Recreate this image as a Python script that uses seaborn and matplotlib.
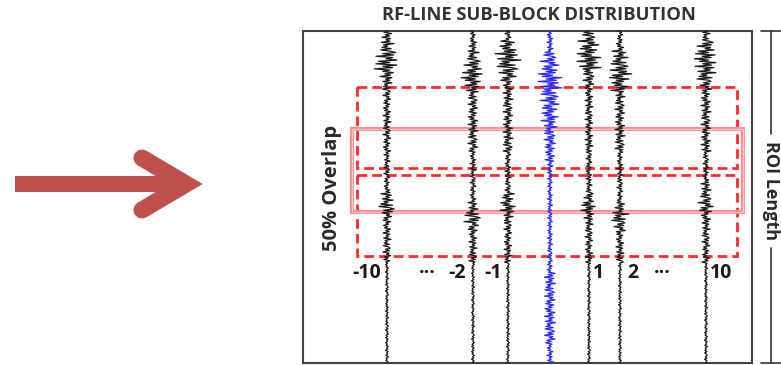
import numpy as np
import pandas as pd
import matplotlib
matplotlib.use("Agg")
import matplotlib.pyplot as plt
from matplotlib.patches import Rectangle
import seaborn as sns

# RF lines (sub-block index) and their lateral position in the diagram
trace_names = ["-10", "-2", "-1", "0", "1", "2", "10"]
trace_x = [387, 473, 508, 550, 589, 620, 706]

# amplitude of each RF line in 33 depth bands (top of box -> bottom)
amp_m10 = [5, 7, 11, 14, 7, 5, 4, 4, 4, 4, 4, 4, 3, 3, 3, 3, 6, 9, 5, 4, 4, 4, 4,
           1.5, 1.5, 1.5, 1.5, 1.5, 1.5, 1.5, 1.5, 1.5, 1.5]
amp_m2 = [3, 4, 6, 9, 13, 8, 5, 5, 5, 5, 5, 5, 3, 3, 3, 3, 3, 5, 9, 6, 4, 4, 4,
          1.5, 1.5, 1.5, 1.5, 1.5, 1.5, 1.5, 1.5, 1.5, 1.5]
amp_m1 = [3, 9, 13, 12, 9, 5, 5, 5, 5, 5, 5, 5, 3, 3, 3, 3, 7, 8, 5, 4, 4, 4, 4,
          1.5, 1.5, 1.5, 1.5, 1.5, 1.5, 1.5, 1.5, 1.5, 1.5]
amp_0 = [3, 3, 7, 10, 13, 12, 10, 10, 9, 7, 6, 6, 5, 3, 2.5, 2.5, 2.5, 2.5, 2.5, 2.5,
         2.5, 2.5, 2.5, 3, 5.5, 5.5, 5.5, 5.5, 5.5, 5.5, 5.5, 3, 3]
amp_p1 = [7, 11, 13, 12, 6, 5, 4, 4, 4, 4, 4, 4, 3, 3, 3, 3, 5, 9, 5, 4, 4, 4, 4,
          1.5, 1.5, 1.5, 1.5, 1.5, 1.5, 1.5, 1.5, 1.5, 1.5]
amp_p2 = [3, 4, 8, 10, 13, 9, 5, 5, 5, 5, 5, 5, 3, 3, 3, 3, 3, 5, 9, 6, 4, 4, 4,
          1.5, 1.5, 1.5, 1.5, 1.5, 1.5, 1.5, 1.5, 1.5, 1.5]
amp_p10 = [4, 9, 13, 11, 10, 6, 5, 5, 5, 5, 5, 5, 3, 3, 3, 5, 6, 8, 5, 4, 4, 4, 4,
           1.5, 1.5, 1.5, 1.5, 1.5, 1.5, 1.5, 1.5, 1.5, 1.5]
trace_amps = [amp_m10, amp_m2, amp_m1, amp_0, amp_p1, amp_p2, amp_p10]
trace_shift = [0, 7, 13, 4, 19, 11, 23]

# hand-drawn RF wiggle shape, repeated along each line
wiggle = [0.2, -0.6, 0.9, -0.3, 0.5, -1.0, 0.7, -0.2, 0.4, -0.8, 1.0, -0.5, 0.1,
          -0.7, 0.6, -0.9, 0.3, 0.8, -0.4, 0.6, -1.0, 0.5, -0.1, 0.9, -0.6, 0.2,
          -0.8, 0.7, -0.3, 0.4, -0.9]

label_text = ["-10", "\u00b7\u00b7\u00b7", "-2", "-1", "1", "2", "\u00b7\u00b7\u00b7", "10"]
label_x = [367, 427, 457, 493, 598, 633, 662, 721]

top, bottom = 31, 363
per_band = 8

rows = []
for name, x0, amps, sh in zip(trace_names, trace_x, trace_amps, trace_shift):
    env = np.repeat(amps, per_band)
    n = len(env)
    w = np.resize(np.roll(wiggle, sh), n)
    depth = np.linspace(top, bottom, n)
    for d, e, v in zip(depth, env, w):
        rows.append({"trace": name, "depth": d, "pos": x0 + e * v})
df = pd.DataFrame(rows)

sns.set_theme(style="white")
plt.rcParams['font.family'] = ['Open Sans', 'DejaVu Sans']

fig = plt.figure(figsize=(7.81, 3.65), dpi=100)
ax = fig.add_axes([0, 0, 1, 1])

palette = {n: "#1c1c1c" for n in trace_names}
palette["0"] = "#2b2bff"
sns.lineplot(data=df, x="pos", y="depth", hue="trace", units="trace",
             estimator=None, sort=False, orient="y", palette=palette,
             legend=False, linewidth=0.9, ax=ax)

ax.set_xlim(0, 781)
ax.set_ylim(365, 0)
ax.axis("off")

# outer box
ax.add_patch(Rectangle((303, top), 449, bottom - top, fill=False,
                       edgecolor="#444444", lw=1.5))

# dashed sub-blocks
for y0 in (87, 175):
    ax.add_patch(Rectangle((357, y0), 380, 81, fill=False, edgecolor="#ff2a2a",
                           lw=2, linestyle=(0, (3.5, 1.8))))
# overlap block
ax.add_patch(Rectangle((352, 129), 391, 83, fill=False, edgecolor="#ff8c8c", lw=3))
ax.add_patch(Rectangle((352, 129), 391, 83, fill=False, edgecolor="#ffc8c8", lw=1))

# line labels
for t, x in zip(label_text, label_x):
    ax.text(x, 273, t, ha="center", va="center", fontsize=14, fontweight="bold",
            color="#1a1a1a")

ax.text(539, 15, "RF-LINE SUB-BLOCK DISTRIBUTION", ha="center", va="center",
        fontsize=13.2, fontweight="bold", color="#333333")
ax.text(332, 188, "50% Overlap", ha="center", va="center", rotation=90,
        fontsize=14.5, fontweight="bold", color="#2a2a2a")

# ROI length marker
ax.plot([771, 771], [top, 134], color="#333333", lw=1.2)
ax.plot([771, 771], [248, bottom], color="#333333", lw=1.2)
ax.plot([761, 781], [top, top], color="#333333", lw=1.2)
ax.plot([761, 781], [bottom, bottom], color="#333333", lw=1.2)
ax.text(771, 191, "ROI Length", ha="center", va="center", rotation=270,
        fontsize=13, fontweight="bold", color="#2a2a2a")

# big red arrow
red = "#c0504d"
ax.plot([15, 186], [184, 184], color=red, lw=16 * 0.72, solid_capstyle="butt")
ax.plot([142, 186, 142], [158, 184, 210], color=red, lw=17 * 0.72,
        solid_capstyle="round", solid_joinstyle="miter")

fig.savefig("out.png", dpi=100)
